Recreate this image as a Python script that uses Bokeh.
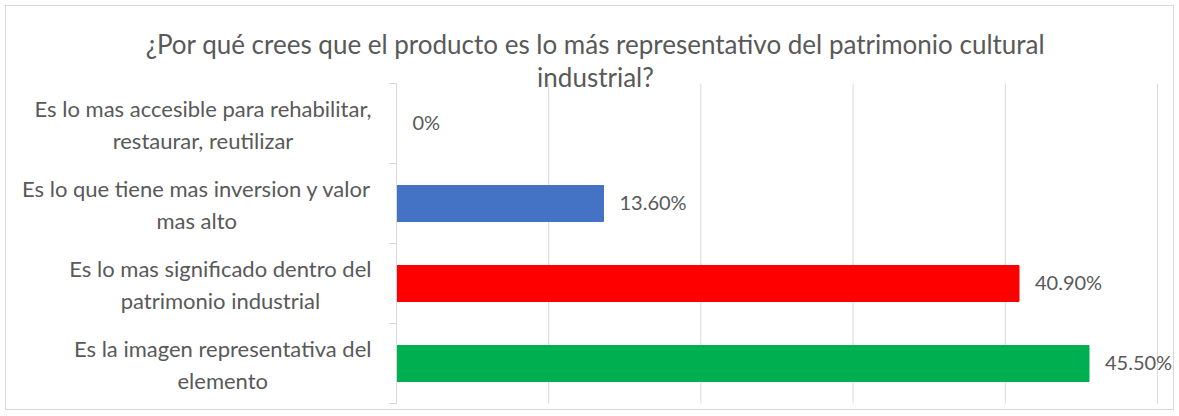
from bokeh.plotting import figure
from bokeh.models import Range1d, FixedTicker, Label, LabelSet, ColumnDataSource
from bokeh.core.properties import value
from bokeh.embed import file_html
from bokeh.resources import INLINE

title_lines = ["¿Por qué crees que el producto es lo más representativo del patrimonio cultural",
               "industrial?"]
# top to bottom
categories = ["Es lo mas accesible para rehabilitar,\nrestaurar, reutilizar",
              "Es lo que tiene mas inversion y valor\nmas alto",
              "Es lo mas significado dentro del\npatrimonio industrial",
              "Es la imagen representativa del\nelemento"]
values = [0.0, 0.136, 0.409, 0.455]
value_labels = ["0%", "13.60%", "40.90%", "45.50%"]
colors = ["#4472C4", "#4472C4", "#FF0000", "#00B050"]
grid_ticks = [0.1, 0.2, 0.3, 0.4, 0.5]

n = len(categories)
ypos = [n - 1 - i for i in range(n)]

FONT = "Lato"
TXT = "#595959"
GRID = "#d9d9d9"

p = figure(width=1169, height=405, output_backend="svg", toolbar_location=None,
           x_axis_location=None,
           x_range=Range1d(-0.24836, 0.51183), y_range=Range1d(-0.6, 4.4625),
           min_border_left=12, min_border_right=0, min_border_top=0, min_border_bottom=0)
p.outline_line_color = None
p.background_fill_color = "white"
p.border_fill_color = "white"
p.styles = {"border": "1px solid #d9d9d9", "margin": "5px"}
p.grid.visible = False

# vertical gridlines restricted to the plot area
p.segment(x0=grid_ticks, x1=grid_ticks, y0=[-0.5] * len(grid_ticks), y1=[n - 0.5] * len(grid_ticks),
          line_color=GRID, line_width=1)

# category axis: line at x=0 with ticks at category boundaries
bounds_ticks = [-0.5 + i for i in range(n + 1)]
ax = p.yaxis[0]
ax.fixed_location = 0
ax.bounds = (-0.5, n - 0.5)
ax.ticker = FixedTicker(ticks=bounds_ticks)
ax.major_label_overrides = {t: "" for t in bounds_ticks}
ax.major_label_standoff = 0
ax.axis_line_color = GRID
ax.major_tick_line_color = GRID
ax.major_tick_out = 7
ax.major_tick_in = 0
ax.minor_tick_line_color = None

src = ColumnDataSource(dict(y=ypos, v=values, lab=value_labels, c=colors))
p.hbar(y="y", left=0, right="v", height=0.45, fill_color="c", line_color="c", source=src)

p.add_layout(LabelSet(x="v", y="y", text="lab", source=src, x_offset=16, y_offset=2,
                      text_baseline="middle", text_align="left",
                      text_font=value(FONT), text_font_size=value("20px"), text_color=value(TXT)))

# category labels: block right-aligned next to the axis, lines centered
for cat, y in zip(categories, ypos):
    p.add_layout(Label(x=0, y=y, x_offset=-25, y_offset=-1, text=cat,
                       anchor="center_right", text_align="center", text_baseline="middle",
                       text_font=FONT, text_font_size="22px", text_color=TXT,
                       text_line_height=1.17))

# title
for t, yo in zip(title_lines, [40, 7]):
    p.add_layout(Label(x=0, y=n - 0.5, x_offset=199, y_offset=yo, text=t,
                       text_align="center", text_baseline="alphabetic",
                       text_font=FONT, text_font_size="26px", text_color=TXT))

open("out.html", "w").write(file_html(p, INLINE))
